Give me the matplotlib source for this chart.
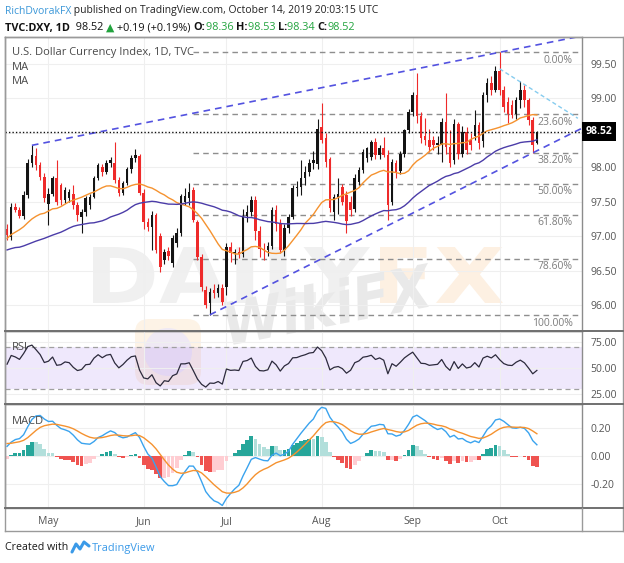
import numpy as np
import pandas as pd
import matplotlib
matplotlib.use('Agg')
import matplotlib.pyplot as plt
from matplotlib.lines import Line2D
from matplotlib.text import Annotation
from matplotlib.textpath import TextPath
from matplotlib.patches import PathPatch, FancyBboxPatch, Circle
from matplotlib.font_manager import FontProperties
import matplotlib.transforms as mtransforms

# daily candles, Apr 17 - Oct 14 2019 (TVC:DXY, 1D)
opens = [97.10, 96.99, 97.43, 97.38, 97.30, 97.60, 98.06, 98.16, 98.03, 97.86,
         97.47, 97.62, 97.85, 97.74, 97.53, 97.55, 97.62, 97.45, 97.28, 97.35,
         97.45, 97.57, 97.85, 98.00, 97.93, 98.06, 98.06, 97.82, 97.63, 97.77,
         97.97, 98.14, 98.16, 97.63, 97.20, 97.13, 97.31, 97.00, 96.66, 96.78,
         96.61, 96.90, 97.05, 97.50, 97.55, 97.67, 97.20, 96.70, 96.22, 96.03,
         96.22, 96.17, 96.25, 96.26, 96.84, 96.75, 96.77, 96.74, 97.29, 97.35,
         97.52, 97.08, 96.82, 96.80, 96.86, 97.38, 97.18, 96.80, 97.12, 97.28,
         97.70, 97.72, 97.84, 97.93, 98.06, 98.05, 98.59, 98.42, 98.12, 97.35,
         97.57, 97.72, 97.60, 97.50, 97.40, 97.79, 97.96, 98.13, 98.15, 98.37,
         98.18, 98.28, 98.18, 97.50, 98.06, 97.95, 98.20, 98.54, 98.80, 99.05,
         98.75, 98.45, 98.40, 98.40, 98.33, 98.33, 98.66, 98.30, 98.10, 98.63,
         98.20, 98.52, 98.40, 98.45, 98.62, 98.38, 99.05, 99.22, 99.12, 99.40,
         99.12, 98.95, 98.90, 98.78, 98.98, 99.12, 98.98, 98.69, 98.36]
highs = [97.18, 97.48, 97.48, 97.42, 97.65, 98.12, 98.32, 98.28, 98.08, 97.92,
         97.70, 97.88, 98.10, 97.78, 97.72, 97.68, 97.75, 97.50, 97.40, 97.58,
         97.62, 97.88, 98.06, 98.05, 98.10, 98.15, 98.37, 97.86, 97.80, 98.00,
         98.18, 98.26, 98.20, 97.68, 97.26, 97.36, 97.34, 97.05, 96.82, 96.84,
         97.02, 97.12, 97.62, 97.70, 97.77, 97.72, 97.24, 96.74, 96.28, 96.25,
         96.30, 96.30, 96.30, 96.90, 96.92, 96.82, 96.85, 97.40, 97.45, 97.58,
         97.58, 97.15, 96.90, 96.92, 97.42, 97.45, 97.25, 97.18, 97.32, 97.75,
         97.80, 98.10, 98.02, 98.12, 98.24, 98.70, 98.93, 98.50, 98.15, 97.62,
         97.84, 97.76, 97.66, 97.58, 97.90, 98.00, 98.26, 98.30, 98.40, 98.42,
         98.32, 98.44, 98.25, 98.12, 98.10, 98.24, 98.56, 98.84, 99.10, 99.37,
         98.80, 98.72, 98.55, 98.46, 98.45, 98.72, 99.08, 98.54, 98.70, 98.66,
         98.60, 98.58, 98.50, 98.83, 98.66, 99.10, 99.30, 99.32, 99.47, 99.67,
         99.18, 99.02, 98.98, 99.02, 99.25, 99.20, 99.00, 98.73, 98.53]
lows = [96.95, 96.95, 97.35, 97.26, 97.25, 97.55, 98.00, 97.96, 97.82, 97.50,
        97.16, 97.58, 97.45, 97.45, 97.48, 97.50, 97.40, 97.22, 97.05, 97.30,
        97.40, 97.55, 97.82, 97.88, 97.90, 98.00, 97.78, 97.58, 97.60, 97.74,
        97.92, 98.08, 97.60, 97.10, 97.08, 96.80, 96.76, 96.48, 96.60, 96.65,
        96.55, 96.85, 97.00, 97.45, 97.45, 97.20, 96.65, 96.20, 95.96, 95.86,
        96.10, 96.12, 96.00, 96.15, 96.62, 96.60, 96.68, 96.70, 97.20, 97.30,
        96.95, 96.70, 96.65, 96.72, 96.82, 97.08, 96.75, 96.72, 97.05, 97.25,
        97.58, 97.60, 97.75, 97.88, 97.98, 97.98, 98.35, 98.00, 97.35, 97.24,
        97.32, 97.45, 97.05, 97.30, 97.35, 97.75, 97.92, 98.08, 98.10, 98.12,
        98.12, 98.15, 97.24, 97.45, 97.85, 97.90, 98.15, 98.50, 98.75, 98.65,
        98.35, 98.33, 98.22, 98.25, 98.20, 98.08, 98.20, 98.00, 98.05, 98.12,
        98.15, 98.20, 98.25, 98.40, 98.26, 98.30, 98.95, 99.05, 99.10, 99.05,
        98.80, 98.65, 98.72, 98.70, 98.86, 98.88, 98.62, 98.21, 98.34]
closes = [97.02, 97.43, 97.38, 97.30, 97.60, 98.06, 98.18, 98.03, 97.86, 97.55,
          97.62, 97.85, 97.50, 97.53, 97.67, 97.64, 97.45, 97.31, 97.35, 97.55,
          97.57, 97.85, 98.03, 97.93, 98.06, 98.10, 97.82, 97.63, 97.77, 97.97,
          98.14, 98.18, 97.63, 97.20, 97.14, 97.31, 96.80, 96.55, 96.77, 96.72,
          96.97, 97.05, 97.58, 97.58, 97.64, 97.24, 96.70, 96.26, 96.00, 96.19,
          96.17, 96.25, 96.05, 96.84, 96.75, 96.77, 96.74, 97.29, 97.35, 97.52,
          97.08, 96.82, 96.80, 96.86, 97.38, 97.18, 96.80, 97.12, 97.28, 97.70,
          97.72, 97.84, 97.93, 98.06, 98.10, 98.55, 98.40, 98.08, 97.41, 97.57,
          97.62, 97.50, 97.22, 97.38, 97.84, 97.96, 98.23, 98.28, 98.37, 98.18,
          98.28, 98.18, 97.45, 98.08, 97.92, 98.20, 98.54, 98.80, 99.05, 98.75,
          98.42, 98.40, 98.30, 98.33, 98.36, 98.66, 98.30, 98.07, 98.63, 98.20,
          98.52, 98.25, 98.32, 98.62, 98.35, 99.05, 99.22, 99.12, 99.40, 99.12,
          98.88, 98.78, 98.76, 98.98, 99.12, 98.98, 98.69, 98.33, 98.52]
# closes before the visible window (Feb 6 - Apr 16), only used to warm up MA/RSI/MACD
prior_closes = [96.35, 96.45, 96.63, 97.03, 96.68, 96.90, 96.97, 96.90, 96.88, 96.54,
                96.45, 96.65, 96.48, 96.45, 96.25, 96.10, 96.16, 96.52, 96.80, 96.92,
                97.15, 97.66, 97.31, 97.21, 96.85, 96.53, 96.82, 96.60, 96.46, 96.38,
                95.96, 96.33, 96.65, 96.60, 96.73, 96.90, 97.10, 97.24, 97.25, 97.29,
                96.99, 97.20, 97.37, 97.02, 96.96, 96.90, 97.01, 96.90, 96.92, 97.00]

month_labels = ['May', 'Jun', 'Jul', 'Aug', 'Sep', 'Oct']
month_starts = [10, 33, 53, 76, 98, 119]
price_ticks = [96.0, 96.5, 97.0, 97.5, 98.0, 98.5, 99.0, 99.5]
rsi_ticks = [25, 50, 75]
macd_ticks = [-0.2, 0.0, 0.2]
fib_ratios = [0.0, 0.236, 0.382, 0.5, 0.618, 0.786, 1.0]
fib_labels = ['0.00%', '23.60%', '38.20%', '50.00%', '61.80%', '78.60%', '100.00%']
swing_low_idx, swing_high_idx = 49, 119
upper_anchor_idx = [6, 119]
lower_anchor_idx = [49, 127]
fall_line = [(119, 99.43), (124, 99.24)]

plt.rcParams['font.family'] = ['Open Sans', 'DejaVu Sans']

W, H = 624, 563
fig = plt.figure(figsize=(W / 100, H / 100), dpi=100)


def px(x, y):
    return x / W, 1 - y / H


def box(top, bottom):
    return [5 / W, 1 - bottom / H, 577 / W, (bottom - top) / H]


ax = fig.add_axes(box(37, 331))
ax_rsi = fig.add_axes(box(331, 404), sharex=ax)
ax_macd = fig.add_axes(box(404, 508), sharex=ax)

x = np.arange(len(closes))
o = np.array(opens)
c = np.array(closes)
hi = np.array(highs)
lo = np.array(lows)
x_left, x_right = -0.5, 138.9

# indicators
allc = pd.Series(prior_closes + closes)
n0 = len(prior_closes)
ma_fast = allc.rolling(20).mean().values[n0:]
ma_slow = allc.rolling(50).mean().values[n0:]
delta = allc.diff()
gain = delta.clip(lower=0).ewm(alpha=1 / 14, adjust=False).mean()
loss = (-delta.clip(upper=0)).ewm(alpha=1 / 14, adjust=False).mean()
rsi = (100 - 100 / (1 + gain / loss)).values[n0:]
macd_all = allc.ewm(span=12, adjust=False).mean() - allc.ewm(span=26, adjust=False).mean()
signal_all = macd_all.ewm(span=9, adjust=False).mean()
hist_all = (macd_all - signal_all).values
macd = macd_all.values[n0:]
signal = signal_all.values[n0:]
hist = hist_all[n0:]
hist_prev = hist_all[n0 - 1:-1]


# watermark (drawn in pixels, behind the transparent panes)
def stamp(text, left, top, right, bottom, colr, angle=0, italic=False):
    fp = FontProperties(family='DejaVu Sans', weight='bold', style='italic' if italic else 'normal')
    path = TextPath((0, 0), text, size=1, prop=fp)
    ext = path.get_extents()
    sx = (right - left) / ext.width
    sy = (bottom - top) / ext.height
    tr = (mtransforms.Affine2D().translate(-ext.x0, -ext.y0).scale(sx, sy)
          .rotate_deg(angle).translate(left, H - bottom))
    fig.add_artist(PathPatch(path, transform=tr, fc=colr, ec='none', zorder=-1))


stamp('DAILY', 93, 247, 370, 303, '#f0f0f0')
stamp('FX', 380, 247, 503, 303, '#fdf0e2')
stamp('WikiFX', 232, 300, 440, 345, '#e9e9e9', angle=11, italic=True)
fig.add_artist(FancyBboxPatch((135, H - 385), 66, 66, boxstyle='round,pad=0,rounding_size=14',
                              transform=mtransforms.IdentityTransform(), fc='#fdf3e6', ec='none', zorder=-1))
fig.add_artist(Circle((168, H - 352), 24, transform=mtransforms.IdentityTransform(),
                      fc='#efe9f4', ec='none', zorder=-1))

for a in (ax, ax_rsi, ax_macd):
    a.set_facecolor('none')
    a.yaxis.tick_right()
    a.tick_params(axis='both', length=0, labelsize=7.5, labelcolor='#555555', pad=6)
    a.tick_params(axis='x', labelbottom=False)
    a.grid(True, color='#efefef', lw=0.8)
    a.set_axisbelow(True)
    for s in a.spines.values():
        s.set_color('#8c8c8c')
        s.set_linewidth(1)
    a.set_xlim(x_left, x_right)

# price pane
up = c >= o
col = np.where(up, '#141414', '#ee2a2a')
ax.vlines(x, lo, hi, colors=col, lw=0.8, zorder=3)
ax.bar(x, np.maximum(np.abs(c - o), 0.015), bottom=np.minimum(o, c), width=0.62,
       color=col, lw=0, zorder=4)
ax.plot(x, ma_fast, color='#f5922f', lw=1, zorder=5)
ax.plot(x, ma_slow, color='#4b3ca8', lw=1, zorder=5)

fib_top, fib_bot = hi[swing_high_idx], lo[swing_low_idx]
for r, lab in zip(fib_ratios, fib_labels):
    lvl = fib_top - r * (fib_top - fib_bot)
    ax.hlines(lvl, 45, x_right, colors='#8e8e8e', linestyles=(0, (4, 3)), lw=1, zorder=2)
    ax.annotate(lab, xy=(136.6, lvl), xytext=(0, -2), textcoords='offset points',
                ha='right', va='top', fontsize=7.5, color='#7d7d7d', zorder=2)


def extend(p1, p2, xa, xb):
    k = (p2[1] - p1[1]) / (p2[0] - p1[0])
    return [xa, xb], [p1[1] + k * (xa - p1[0]), p1[1] + k * (xb - p1[0])]


i1, i2 = upper_anchor_idx
xs, ys = extend((i1, hi[i1]), (i2, hi[i2]), i1, x_right)
ax.plot(xs, ys, color='#5352e0', ls=(0, (4, 3)), lw=1.2, zorder=6)
i1, i2 = lower_anchor_idx
xs, ys = extend((i1, lo[i1]), (i2, lo[i2]), i1, x_right)
ax.plot(xs, ys, color='#5352e0', ls=(0, (4, 3)), lw=1.2, zorder=6)
xs, ys = extend(fall_line[0], fall_line[1], fall_line[0][0], x_right - 1)
ax.plot(xs, ys, color='#86ccef', ls=(0, (3, 2)), lw=1, zorder=6)

ax.axhline(c[-1], color='#111111', ls=(0, (1, 1.5)), lw=1, zorder=6)
blend = mtransforms.blended_transform_factory(ax.transAxes, ax.transData)
ax.text(1.006, c[-1], f'{c[-1]:.2f}', transform=blend, ha='left', va='center',
        color='white', fontsize=7.5, fontweight='bold', clip_on=False, zorder=10,
        bbox=dict(boxstyle='square,pad=0.35', fc='black', ec='none'))

ax.set_ylim(95.625, 99.892)
ax.set_yticks(price_ticks)
# the last-price tag hides the tick label it would overlap
ax.set_yticklabels(['' if abs(v - c[-1]) < 0.1 else f'{v:.2f}' for v in price_ticks])
ax.set_xticks(month_starts)

# RSI pane
ax_rsi.axhspan(30, 70, color='#b38ef0', alpha=0.2, lw=0, zorder=0)
ax_rsi.axhline(70, color='#a0a0a0', ls=(0, (4, 3)), lw=0.9)
ax_rsi.axhline(30, color='#a0a0a0', ls=(0, (4, 3)), lw=0.9)
ax_rsi.plot(x, rsi, color='#2c2a3c', lw=0.9, zorder=4)
ax_rsi.set_ylim(16, 85)
ax_rsi.set_yticks(rsi_ticks)
ax_rsi.set_yticklabels([f'{v:.2f}' for v in rsi_ticks])

# MACD pane
hcol = []
for h, p in zip(hist, hist_prev):
    if h >= 0:
        hcol.append('#26a69a' if h > p else '#b2dfdb')
    else:
        hcol.append('#ffcdd2' if h > p else '#ef5350')
ax_macd.bar(x, hist, width=0.9, color=hcol, lw=0, zorder=2)
ax_macd.plot(x, macd, color='#3aa3ee', lw=1, zorder=4)
ax_macd.plot(x, signal, color='#f5922f', lw=1, zorder=4)
ax_macd.set_ylim(-0.371, 0.371)
ax_macd.set_yticks(macd_ticks)
ax_macd.set_yticklabels([f'{v:.2f}' for v in macd_ticks])
ax_macd.set_xticks(month_starts)
ax_macd.set_xticklabels(month_labels)
ax_macd.tick_params(axis='x', labelbottom=True, pad=6)

# pane legends
fig.text(*px(12, 52), 'U.S. Dollar Currency Index, 1D, TVC', fontsize=8, color='#4a4a4a', va='center')
fig.text(*px(12, 67), 'MA', fontsize=8, color='#4a4a4a', va='center')
fig.text(*px(12, 81), 'MA', fontsize=8, color='#4a4a4a', va='center')
fig.text(*px(12, 347), 'RSI', fontsize=8, color='#4a4a4a', va='center')
fig.text(*px(12, 421), 'MACD', fontsize=8, color='#4a4a4a', va='center')

# frame and separators
for (xa, ya, xb, yb, colr, lw) in [(5, 37, 623, 37, '#9a9a9a', 1), (5, 37, 5, 531, '#9a9a9a', 1),
                                    (623, 37, 623, 531, '#9a9a9a', 1), (5, 531, 623, 531, '#9a9a9a', 1),
                                    (5, 331, 623, 331, '#707070', 1.4), (5, 404, 623, 404, '#707070', 1.4),
                                    (5, 508, 623, 508, '#707070', 1.4), (582, 508, 582, 531, '#9a9a9a', 1)]:
    p1, p2 = px(xa, ya), px(xb, yb)
    fig.add_artist(Line2D([p1[0], p2[0]], [p1[1], p2[1]], color=colr, lw=lw))


def write_run(x0, y0, parts, size):
    prev = fig.text(*px(x0, y0), parts[0][0], color=parts[0][1], fontsize=size,
                    fontweight=parts[0][2], va='center')
    for s, colr, wt in parts[1:]:
        a = Annotation(s, xy=(1, 0), xycoords=prev, va='bottom', ha='left', color=colr,
                       fontsize=size, fontweight=wt)
        fig.add_artist(a)
        prev = a


green = '#22a33e'
chg = c[-1] - c[-2]
write_run(5, 11, [('RichDvorakFX', '#3a97d8', 'normal'),
                  (' published on TradingView.com, October 14, 2019 20:03:15 UTC', '#222222', 'normal')], 7.45)
write_run(5, 28, [('TVC:DXY, 1D', '#111111', 'bold'), (f'  {c[-1]:.2f} ', '#111111', 'normal'),
                  ('\u25b2', green, 'normal'),
                  (f' +{chg:.2f} (+{chg / c[-2] * 100:.2f}%) ', '#111111', 'normal'),
                  ('O:', '#111111', 'bold'), (f'{o[-1]:.2f} ', green, 'normal'),
                  ('H:', '#111111', 'bold'), (f'{hi[-1]:.2f} ', green, 'normal'),
                  ('L:', '#111111', 'bold'), (f'{lo[-1]:.2f} ', green, 'normal'),
                  ('C:', '#111111', 'bold'), (f'{c[-1]:.2f}', green, 'normal')], 7.8)

# footer
fig.text(*px(5, 548), 'Created with', fontsize=7.7, color='#1a1a1a', va='center')
logo_x = [72, 76, 80, 84, 89]
logo_y = [552, 544, 549, 542, 546]
fig.add_artist(Line2D([v / W for v in logo_x], [1 - v / H for v in logo_y], color='#3b9ae8', lw=2.2,
                      solid_joinstyle='round', solid_capstyle='round'))
fig.text(*px(92, 548), 'TradingView', fontsize=7.9, color='#3b9ae8', va='center')

fig.savefig('out.png', dpi=100, facecolor='white')
